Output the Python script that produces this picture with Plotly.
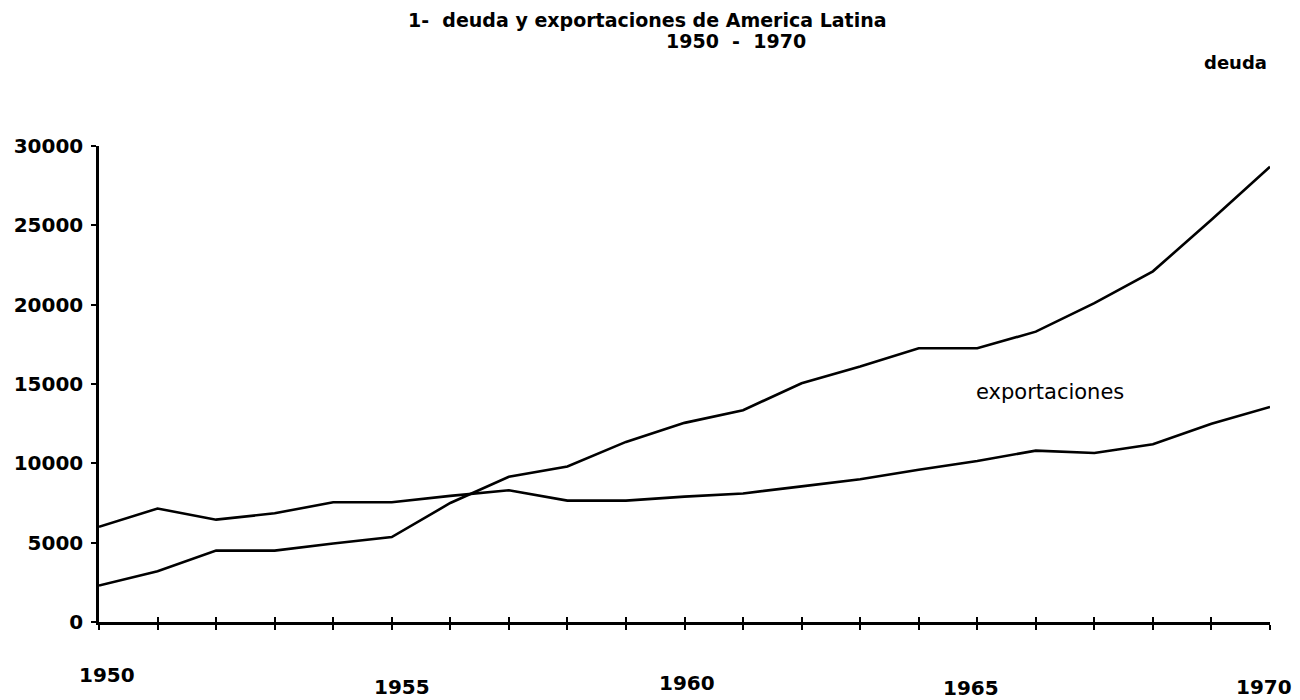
import plotly.graph_objects as go

years = list(range(1950, 1971))
deuda = [2300, 3200, 4500, 4500, 4950, 5350, 7500, 9150, 9800, 11350, 12550,
         13350, 15050, 16100, 17250, 17250, 18300, 20100, 22100, 25350, 28700]
exportaciones = [6000, 7150, 6450, 6850, 7550, 7550, 7950, 8300, 7650, 7650, 7900,
                 8100, 8550, 9000, 9600, 10150, 10800, 10650, 11200, 12500, 13550]

year_labels = ["1950", "1955", "1960", "1965", "1970"]
year_label_pos = [1950, 1955, 1960, 1965, 1970]
y_ticks = [0, 5000, 10000, 15000, 20000, 25000, 30000]

FONT = "DejaVu Sans, Liberation Sans, sans-serif"

# page body adds ~8px offset; figure is shrunk so plot lands at reference pixels
fig = go.Figure()
fig.add_trace(go.Scatter(x=years, y=deuda, mode="lines", name="deuda",
                         line=dict(color="black", width=2.6), xaxis="x", yaxis="y"))
fig.add_trace(go.Scatter(x=years, y=exportaciones, mode="lines", name="exportaciones",
                         line=dict(color="black", width=2.6), xaxis="x2", yaxis="y"))

xrange = [1950, 1970]
fig.update_layout(
    width=1292, height=692,
    margin=dict(l=91, r=30, t=138, b=78, autoexpand=False),
    paper_bgcolor="white", plot_bgcolor="white",
    showlegend=False,
    font=dict(family=FONT, color="black"),
    xaxis=dict(range=xrange, showgrid=False, zeroline=False, showline=True,
               linecolor="black", linewidth=2.5, ticks="outside", ticklen=5,
               tickwidth=2, tickcolor="black", dtick=1, tick0=1950,
               showticklabels=False, automargin=False),
    xaxis2=dict(range=xrange, overlaying="x", anchor="y", side="bottom",
                showgrid=False, zeroline=False, showline=False,
                ticks="inside", ticklen=5, tickwidth=2, tickcolor="black",
                dtick=1, tick0=1950, showticklabels=False, automargin=False),
    yaxis=dict(range=[0, 30000], showgrid=False, zeroline=False, showline=True,
               linecolor="black", linewidth=2.5, ticks="outside", ticklen=5,
               tickwidth=2, tickcolor="black", tickvals=y_ticks,
               ticktext=[str(v) for v in y_ticks], automargin=False,
               tickfont=dict(family=FONT, size=20, color="black", weight="bold"),
               ticklabelstandoff=4),
)

shifts = [8, 10, 2, -6, -6]
ypos = [-0.111, -0.137, -0.128, -0.139, -0.137]
for lab, xv, sh, yp in zip(year_labels, year_label_pos, shifts, ypos):
    fig.add_annotation(x=xv, y=yp, xref="x", yref="paper", text=lab, showarrow=False,
                       xshift=sh, xanchor="center", yanchor="middle",
                       font=dict(family=FONT, size=20, color="black", weight="bold"))

fig.add_annotation(x=0.468, y=1.265, xref="paper", yref="paper",
                   text="1-  deuda y exportaciones de America Latina", showarrow=False,
                   xanchor="center", yanchor="middle",
                   font=dict(family=FONT, size=19, color="black", weight="bold"))
fig.add_annotation(x=0.544, y=1.2206, xref="paper", yref="paper",
                   text="1950&nbsp; -&nbsp; 1970", showarrow=False,
                   xanchor="center", yanchor="middle",
                   font=dict(family=FONT, size=19, color="black", weight="bold"))
fig.add_annotation(x=(1235 - 99) / 1171, y=1.176, xref="paper", yref="paper",
                   text="deuda", showarrow=False, xanchor="center", yanchor="middle",
                   font=dict(family=FONT, size=18, color="black", weight="bold"))
fig.add_annotation(x=(1050 - 99) / 1171, y=(622 - 392) / 476, xref="paper", yref="paper",
                   text="exportaciones", showarrow=False, xanchor="center", yanchor="middle",
                   font=dict(family=FONT, size=21, color="black"))

fig.write_html("out.html")
